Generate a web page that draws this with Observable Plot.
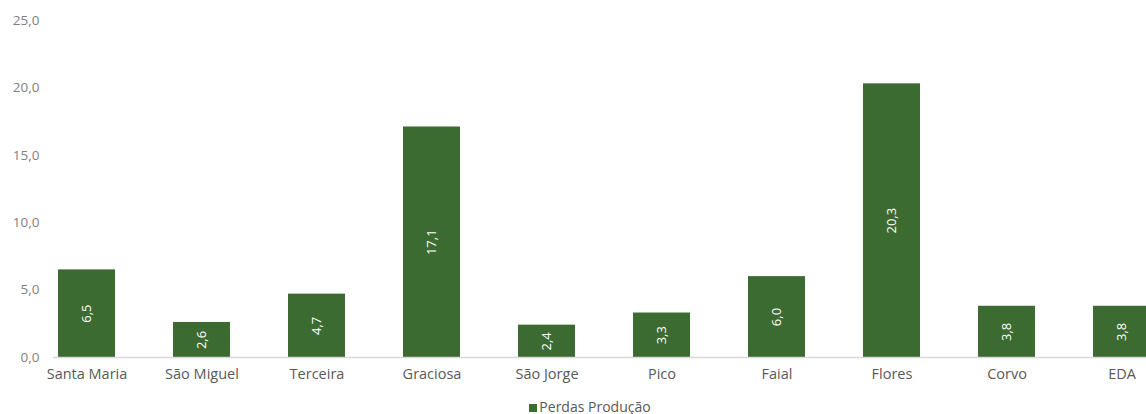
<!DOCTYPE html>
<html><head><meta charset="utf-8">
<script src="https://cdn.jsdelivr.net/npm/d3@7"></script>
<script src="https://cdn.jsdelivr.net/npm/@observablehq/plot@0.6"></script>
<style>
html,body{margin:0;padding:0;background:#fff;overflow:hidden;width:1146px;height:414px;}
#chart{width:1146px;overflow:hidden;}
#chart svg{max-width:none !important;}
#legend{font-family:"Open Sans",sans-serif;font-size:14px;color:#595959;text-align:center;margin-top:7px;padding-left:34px;}
#legend span.sw{display:inline-block;width:8px;height:8px;background:#3b6b30;margin-right:2px;}
</style></head>
<body><div id="chart"></div><div id="legend"><span class="sw"></span>Perdas Produção</div>
<script>
const categories = ["Santa Maria","São Miguel","Terceira","Graciosa","São Jorge","Pico","Faial","Flores","Corvo","EDA"];
const values = [6.5, 2.6, 4.7, 17.1, 2.4, 3.3, 6.0, 20.3, 3.8, 3.8];
const yTicks = [0, 5, 10, 15, 20, 25];
const seriesName = "Perdas Produção";
const data = categories.map((c, i) => ({cat: c, v: values[i]}));
const fmt = d => d.toFixed(1).replace(".", ",");
const green = "#3b6b30";
const chart = Plot.plot({
  width: 1183, height: 390,
  marginLeft: 24, marginRight: 0, marginTop: 20, marginBottom: 33,
  style: {fontFamily: "'Open Sans', sans-serif", fontSize: "13px", maxWidth: "none"},
  x: {domain: categories, paddingInner: 0.508, paddingOuter: 0.254, label: null},
  y: {domain: [0, 25], label: null},
  marks: [
    Plot.axisY({ticks: yTicks, tickFormat: fmt, tickSize: 0, tickPadding: 0, dx: 15, textAnchor: "end", fill: "#7f7f7f", fontSize: 13.5, label: null}),
    Plot.axisX({tickSize: 0, tickPadding: 11, fill: "#595959", fontSize: 14.5, label: null}),
    Plot.barY(data, {x: "cat", y: "v", fill: green}),
    Plot.ruleY([0], {stroke: "#d9d9d9", strokeWidth: 1.5, insetLeft: 29}),
    Plot.text(data, {x: "cat", y: d => d.v / 2, text: d => fmt(d.v), rotate: -90, fill: "white", fontSize: 13})
  ]
});
document.getElementById("chart").append(chart);
</script></body></html>
